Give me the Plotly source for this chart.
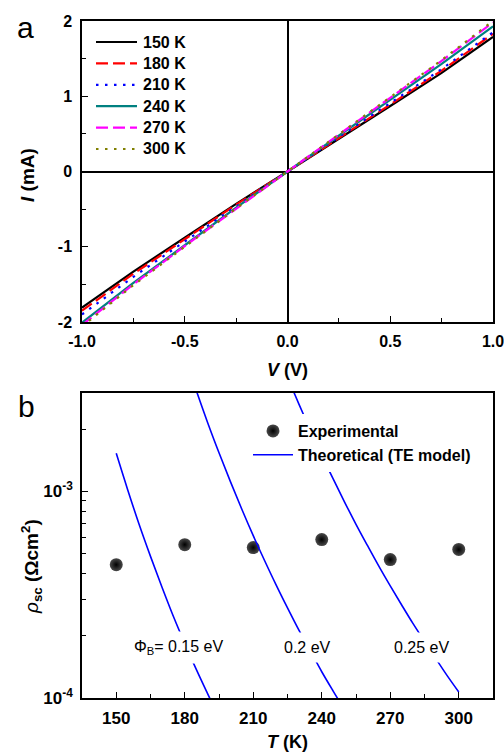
import plotly.graph_objects as go

# ---------------- data: panel a (I-V) ----------------
V = [-1.0, -0.75, -0.5, -0.25, 0.0, 0.25, 0.5, 0.75, 1.0]
I_150 = [-1.81, -1.33, -0.88, -0.43, 0.0, 0.43, 0.87, 1.31, 1.79]
I_180 = [-1.85, -1.36, -0.90, -0.44, 0.0, 0.44, 0.89, 1.34, 1.83]
I_210 = [-1.90, -1.40, -0.93, -0.46, 0.0, 0.46, 0.91, 1.36, 1.85]
I_240 = [-2.01, -1.48, -0.98, -0.48, 0.0, 0.48, 0.96, 1.43, 1.93]
I_270 = [-2.04, -1.50, -0.99, -0.49, 0.0, 0.49, 0.98, 1.47, 1.98]
I_300 = [-2.06, -1.51, -1.00, -0.49, 0.0, 0.49, 0.99, 1.48, 2.00]
iv_names = ["150 K", "180 K", "210 K", "240 K", "270 K", "300 K"]

# ---------------- data: panel b (rho_sc vs T) ----------------
T_exp = [150, 180, 210, 240, 270, 300]
rho_exp = [4.42e-4, 5.53e-4, 5.35e-4, 5.85e-4, 4.68e-4, 5.24e-4]

T_th1 = [150, 155, 160, 165, 170, 175, 180, 185, 190, 192]
rho_th1 = [1.53e-3, 1.02e-3, 6.94e-4, 4.85e-4, 3.45e-4, 2.49e-4, 1.84e-4, 1.38e-4, 1.05e-4, 9.43e-5]

T_th2 = [184, 190, 195, 200, 205, 210, 215, 220, 225, 230, 235, 240, 245, 248]
rho_th2 = [3.33e-3, 2.16e-3, 1.54e-3, 1.116e-3, 8.20e-4, 6.11e-4, 4.62e-4, 3.53e-4,
           2.73e-4, 2.13e-4, 1.69e-4, 1.34e-4, 1.08e-4, 9.52e-5]

T_th3 = [226, 230, 235, 240, 245, 250, 255, 260, 265, 270, 275, 280, 285, 290, 295, 300]
rho_th3 = [3.37e-3, 2.65e-3, 1.985e-3, 1.50e-3, 1.15e-3, 8.89e-4, 6.94e-4, 5.48e-4,
           4.35e-4, 3.49e-4, 2.82e-4, 2.29e-4, 1.88e-4, 1.55e-4, 1.28e-4, 1.07e-4]

barrier_labels = ["\u03a6<sub>B</sub>= 0.15 eV", "0.2 eV", "0.25 eV"]
label_T = [177.6, 233.6, 283.6]
label_logrho = [-3.757, -3.757, -3.757]

FONT = "Liberation Sans, Arial, sans-serif"
W, H = 504, 755

def px(x):
    return x / W

def py(y):
    return 1 - y / H

fig = go.Figure()

iv_sets = [I_150, I_180, I_210, I_240, I_270, I_300]
iv_colors = ["#000000", "#ff0000", "#0000ff", "#008080", "#ff00ff", "#808000"]
iv_dash = ["solid", "12px,5px", "2.5px,6.5px", "solid", "12px,5px", "2.5px,6.5px"]
for name, ys, c, d in zip(iv_names, iv_sets, iv_colors, iv_dash):
    fig.add_trace(go.Scatter(
        x=V, y=ys, mode="lines", name=name,
        line=dict(color=c, width=2.2, dash=d),
        xaxis="x", yaxis="y", showlegend=False,
    ))

# panel b
fig.add_trace(go.Scatter(
    x=T_exp, y=rho_exp, mode="markers", name="Experimental",
    marker=dict(size=13, color="#4a4a4a",
                gradient=dict(type="radial", color="#000000"),
                line=dict(width=0)),
    xaxis="x2", yaxis="y2", legend="legend2",
))
for i, (tx, ty) in enumerate([(T_th1, rho_th1), (T_th2, rho_th2), (T_th3, rho_th3)]):
    fig.add_trace(go.Scatter(
        x=tx, y=ty, mode="lines", name="Theoretical (TE model)",
        line=dict(color="#0000ff", width=1.6, shape="spline"),
        showlegend=(i == 0), legendgroup="th",
        xaxis="x2", yaxis="y2", legend="legend2",
    ))

axis_common = dict(
    showline=True, linecolor="black", linewidth=1.5, mirror=True,
    ticks="inside", tickcolor="black", tickwidth=1.3, ticklen=6,
    showgrid=False, automargin=False, ticklabeloverflow="allow",
)

dom_x = [px(82), px(493)]
fig.update_layout(
    width=W, height=H,
    margin=dict(l=0, r=0, t=0, b=0, autoexpand=False),
    paper_bgcolor="white", plot_bgcolor="white",
    font=dict(family=FONT, color="black"),
    showlegend=True,
    xaxis=dict(
        domain=dom_x, anchor="y", range=[-1.0, 1.0],
        tickvals=[-1.0, -0.5, 0.0, 0.5, 1.0],
        ticktext=["-1.0", "-0.5", "0.0", "0.5", "1.0"],
        tickfont=dict(size=16, weight="bold"),
        minor=dict(ticks="inside", tickvals=[-0.75, -0.25, 0.25, 0.75], ticklen=4, tickcolor="black", tickwidth=1.3),
        zeroline=True, zerolinecolor="black", zerolinewidth=1.5,
        ticklabelstandoff=4,
        **axis_common,
    ),
    yaxis=dict(
        domain=[py(322), py(21)], anchor="x", range=[-2, 2],
        tickvals=[-2, -1, 0, 1, 2], ticktext=["-2", "-1", "0", "1", "2"],
        tickfont=dict(size=16, weight="bold"),
        minor=dict(ticks="inside", tickvals=[-1.5, -0.5, 0.5, 1.5], ticklen=4, tickcolor="black", tickwidth=1.3),
        zeroline=True, zerolinecolor="black", zerolinewidth=1.5,
        ticklabelstandoff=5,
        **axis_common,
    ),
    xaxis2=dict(
        domain=dom_x, anchor="y2", range=[135, 315],
        tickvals=[150, 180, 210, 240, 270, 300],
        tickfont=dict(size=17, weight="bold"),
        minor=dict(ticks="inside", tickvals=[165, 195, 225, 255, 285], ticklen=4, tickcolor="black", tickwidth=1.3),
        zeroline=False, ticklabelstandoff=4,
        **axis_common,
    ),
    yaxis2=dict(
        domain=[py(698), py(393)], anchor="x2", type="log",
        range=[-4, -2.523],
        tickvals=[1e-4, 1e-3],
        ticktext=["<b>10<sup>-4</sup></b>", "<b>10<sup>-3</sup></b>"],
        tickfont=dict(size=17),
        minor=dict(ticks="inside",
                   tickvals=[2e-4, 3e-4, 4e-4, 5e-4, 6e-4, 7e-4, 8e-4, 9e-4, 2e-3],
                   ticklen=4, tickcolor="black", tickwidth=1.3),
        zeroline=False, ticklabelstandoff=4,
        **axis_common,
    ),
    legend2=dict(
        x=px(248), y=py(414), xanchor="left", yanchor="top",
        bgcolor="white", borderwidth=0,
        font=dict(size=16, weight="bold", family=FONT),
        itemwidth=40, tracegroupgap=0,
    ),
)

annots = []
shapes = []
# manual legend for panel a (key samples + labels)
for k, (name, c, d) in enumerate(zip(iv_names, iv_colors, iv_dash)):
    yy = 42 + k * 21.4
    shapes.append(dict(type="line", xref="paper", yref="paper",
                       x0=px(96), x1=px(137), y0=py(yy), y1=py(yy),
                       line=dict(color=c, width=2.2, dash=d)))
    annots.append(dict(text=name, x=px(141), y=py(yy), xref="paper", yref="paper",
                       xanchor="left", yanchor="middle", showarrow=False,
                       font=dict(size=16, weight="bold")))

def centered(text, x, y, size, angle=0):
    return dict(text=text, x=px(x), y=py(y), xref="paper", yref="paper",
                xanchor="center", yanchor="middle", showarrow=False,
                textangle=angle, font=dict(size=size))

# panel letters
annots.append(centered("a", 25, 27, 30))
annots.append(centered("b", 26, 406, 30))
# axis titles
annots.append(centered("<b><i>V</i> (V)</b>", 287, 370, 18))
annots.append(centered("<b><i>T</i> (K)</b>", 287, 742, 18))
annots.append(centered("<b><i>I</i> (mA)</b>", 28, 175, 19, -90))
annots.append(centered("<i>\u03c1</i><sub><b>sc</b></sub><b> (\u03a9cm<sup>2</sup>)</b>", 31, 567, 19, -90))
# barrier labels
for lab, tx, ly in zip(barrier_labels, label_T, label_logrho):
    annots.append(dict(text=lab, x=tx, y=ly, xref="x2", yref="y2", showarrow=False,
                       xanchor="center", yanchor="middle",
                       font=dict(size=16), bgcolor="white", borderpad=6))
fig.update_layout(annotations=annots, shapes=shapes)

fig.write_html("out.html",
               config={"displayModeBar": False},
               post_script="document.body.style.margin='0';document.body.style.padding='0';document.body.style.overflow='hidden';")
